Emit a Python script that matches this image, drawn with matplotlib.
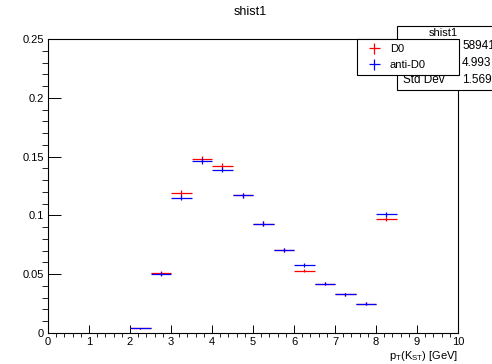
import matplotlib.pyplot as plt
from matplotlib.patches import Rectangle

plt.rcParams['font.family'] = ['Liberation Sans', 'DejaVu Sans']

# bin centres (bin width 0.5 GeV)
pt_centers = [2.25, 2.75, 3.25, 3.75, 4.25, 4.75, 5.25, 5.75, 6.25, 6.75, 7.25, 7.75, 8.25]
d0 = [0.004, 0.051, 0.119, 0.148, 0.142, 0.117, 0.093, 0.071, 0.053, 0.042, 0.033, 0.025, 0.097]
anti_d0 = [0.004, 0.050, 0.115, 0.146, 0.139, 0.117, 0.093, 0.071, 0.058, 0.042, 0.033, 0.025, 0.101]
d0_err = [0.0005, 0.0015, 0.0022, 0.0025, 0.0024, 0.0022, 0.0019, 0.0017, 0.0015, 0.0013, 0.0012, 0.0010, 0.0020]
anti_err = [0.0005, 0.0015, 0.0022, 0.0025, 0.0024, 0.0022, 0.0019, 0.0017, 0.0015, 0.0013, 0.0012, 0.0010, 0.0020]
half_width = 0.25

stat_names = ["Entries", "Mean", "Std Dev"]
stat_values = ["58941", "4.993", "1.569"]

W, H = 492, 364
fig = plt.figure(figsize=(W / 100, H / 100), dpi=100)
ax = fig.add_axes([48 / W, 1 - 333 / H, (458 - 48) / W, (333 - 39) / H])

h1 = ax.errorbar(pt_centers, d0, xerr=half_width, yerr=d0_err, fmt='none',
                 ecolor='red', elinewidth=0.9, capsize=0)
h2 = ax.errorbar(pt_centers, anti_d0, xerr=half_width, yerr=anti_err, fmt='none',
                 ecolor='blue', elinewidth=0.9, capsize=0)

ax.set_xlim(0, 10)
ax.set_ylim(0, 0.25)
ax.set_xticks(range(0, 11))
ax.set_xticks([i * 0.2 for i in range(51)], minor=True)
ax.set_yticks([0, 0.05, 0.1, 0.15, 0.2, 0.25])
ax.set_yticklabels(["0", "0.05", "0.1", "0.15", "0.2", "0.25"])
ax.set_yticks([i * 0.01 for i in range(26)], minor=True)
ax.tick_params(direction='in', labelsize=8, colors='black', width=0.7)
ax.tick_params(axis='y', which='major', length=9, pad=3)
ax.tick_params(axis='y', which='minor', length=4.5, width=0.6)
ax.tick_params(axis='x', which='major', length=6, pad=3)
ax.tick_params(axis='x', which='minor', length=3, width=0.6)
for s in ax.spines.values():
    s.set_linewidth(0.8)

fig.text(250 / W, 1 - 12 / H, "shist1", ha='center', va='center', fontsize=9)
fig.text(458 / W, 1 - 356 / H, r"$\mathregular{p_{T}(K_{ST})}$ [GeV]",
         ha='right', va='center', fontsize=8)

# stats box
x0, y_top, y_bot = 397, 26, 90
fig.patches.append(Rectangle((x0 / W, 1 - y_bot / H), (530 - x0) / W, (y_bot - y_top) / H,
                             transform=fig.transFigure, facecolor='white',
                             edgecolor='black', lw=0.8, zorder=2))
fig.lines.append(plt.Line2D([x0 / W, 1], [1 - 39 / H, 1 - 39 / H],
                            transform=fig.transFigure, color='black', lw=0.8, zorder=2))
fig.lines.append(plt.Line2D([458 / W, 458 / W], [1 - 39 / H, 1 - y_bot / H],
                            transform=fig.transFigure, color='black', lw=0.6, zorder=2))
fig.text(443 / W, 1 - 33 / H, "shist1", ha='center', va='center', fontsize=8, zorder=3)
for i, (n, v) in enumerate(zip(stat_names, stat_values)):
    yy = 1 - (46 + i * 17) / H
    fig.text(403 / W, yy, n, ha='left', va='center', fontsize=8.5, zorder=3)
    fig.text(462 / W, yy, v, ha='left', va='center', fontsize=8.5, zorder=3)

leg = fig.legend([h1, h2], ["D0", "anti-D0"], loc='upper left',
                 bbox_to_anchor=(357 / W, 1 - 39 / H, (459 - 357) / W, 0.0),
                 mode='expand', fontsize=8, framealpha=1.0,
                 frameon=True, fancybox=False, edgecolor='black',
                 handlelength=2.2, handletextpad=0.3, borderpad=0.45,
                 labelspacing=0.55, borderaxespad=0)
leg.get_frame().set_linewidth(0.8)
leg.set_zorder(5)

fig.savefig("out.png", dpi=100)
